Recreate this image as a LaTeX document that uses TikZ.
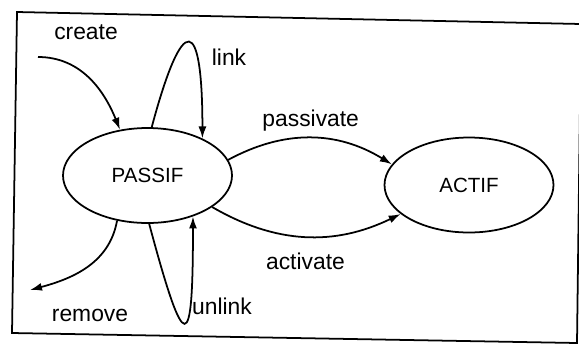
\documentclass[tikz,border=0pt]{standalone}
\usepackage{fontspec}
\setmainfont{Liberation Sans}
\usetikzlibrary{shapes.geometric,arrows.meta}

\begin{document}
\begin{tikzpicture}[>={Latex[length=2.4mm,width=1.6mm]}, line width=1pt]
		\tikzstyle{every edge}=[draw,line width=1pt]
		\tikzstyle{state}=[ellipse,draw,inner sep=0pt,minimum width=3.38cm,minimum height=1.9cm,font=\fontsize{11.7}{14}\selectfont]
		\tikzstyle{lbl}=[font=\fontsize{13}{15}\selectfont]
		\useasboundingbox (0,0) rectangle (11.58,-6.86);
		\clip (0,0) rectangle (11.58,-6.86);
		\draw (0.34,-0.24) -- (11.62,-0.48) -- (11.54,-6.86) -- (0.24,-6.66) -- cycle;

		\node (passif) at (2.95,-3.51) [state] {PASSIF};
		\node (actif) at (9.38,-3.70) [state] {ACTIF};
		\coordinate (new) at (0.76,-1.14);
		\coordinate (gone) at (0.60,-5.80);

		\path [->] (new) edge[out=0,in=112] (passif.121);
		\path [->] (passif.-124) edge[out=-100,in=15] (gone);
		\path [->] (passif.85) edge[out=75,in=90,looseness=6] (passif.34);
		\path [->] (passif.-88) edge[out=-75,in=-90,looseness=8] (passif.-42);

		\path [->] (passif.11) edge[bend left=30] node[lbl,above] {passivate} (actif.165);
		\path [->] (passif.-26) edge[bend right=28] node[lbl,below=2mm] {activate} (actif.-157);

		\node (create) at (1.72,-0.65) [lbl] {create};
		\node (link) at (4.58,-1.15) [lbl] {link};
		\node (remove) at (1.80,-6.31) [lbl] {remove};
		\node (unlink) at (4.44,-6.13) [lbl] {unlink};
	\end{tikzpicture}
\end{document}
